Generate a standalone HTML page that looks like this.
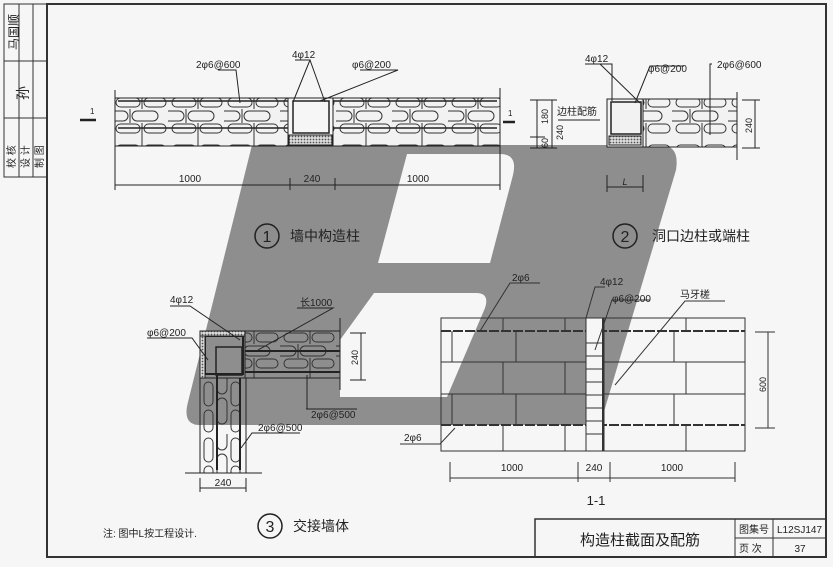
<!DOCTYPE html>
<html><head><meta charset="utf-8"><style>
html,body{margin:0;padding:0;background:#f6f6f6;}
svg{display:block}
text{font-family:"Liberation Sans","Noto Sans CJK SC",sans-serif;fill:#222}
</style></head><body>
<svg width="833" height="567" viewBox="0 0 833 567" xmlns="http://www.w3.org/2000/svg">
<defs>
<pattern id="blk" x="0" y="0" width="56" height="47" patternUnits="userSpaceOnUse">
<rect x="4" y="4" width="24" height="9" rx="4.5" fill="none" stroke="#333" stroke-width="1"/>
<rect x="32" y="4" width="22" height="9" rx="4.5" fill="none" stroke="#333" stroke-width="1"/>
<rect x="-10" y="17" width="26" height="10" rx="5" fill="none" stroke="#333" stroke-width="1"/>
<rect x="20" y="17" width="26" height="10" rx="5" fill="none" stroke="#333" stroke-width="1"/>
<rect x="4" y="30" width="24" height="9" rx="4.5" fill="none" stroke="#333" stroke-width="1"/>
<rect x="32" y="30" width="22" height="9" rx="4.5" fill="none" stroke="#333" stroke-width="1"/>
<line x1="30" y1="0" x2="30" y2="15" stroke="#333"/>
<line x1="18" y1="15" x2="18" y2="29" stroke="#333"/>
<line x1="30" y1="29" x2="30" y2="47" stroke="#333"/>
</pattern>
<pattern id="blkv" x="200" y="378" width="46" height="56" patternUnits="userSpaceOnUse">
<rect x="4" y="4" width="9" height="24" rx="4.5" fill="none" stroke="#333"/>
<rect x="4" y="32" width="9" height="22" rx="4.5" fill="none" stroke="#333"/>
<rect x="17" y="-10" width="10" height="26" rx="5" fill="none" stroke="#333"/>
<rect x="17" y="20" width="10" height="26" rx="5" fill="none" stroke="#333"/>
<rect x="31" y="4" width="9" height="24" rx="4.5" fill="none" stroke="#333"/>
<rect x="31" y="32" width="9" height="22" rx="4.5" fill="none" stroke="#333"/>
</pattern>
<pattern id="dots" width="3" height="3" patternUnits="userSpaceOnUse"><rect width="3" height="3" fill="#ddd"/><circle cx="1.5" cy="1.5" r="0.9" fill="#555"/></pattern>
</defs>

<!-- grey watermark -->
<path d="M252 145 L660 145 Q680 145 676 170 L600 425 L200 425 Q182 425 188 402 Z
M407 154 L500 154 Q518 154 513 175 L490 263 L378 263 Z
M374 293 L476 293 Q490 293 485 308 L447 397 L340 397 L340 340 Z" fill="#8e8e8e" fill-rule="evenodd"/>

<!-- frame -->
<g stroke="#333" fill="none">
<rect x="47" y="4" width="779" height="553" stroke-width="2"/>
<rect x="4" y="4" width="43" height="173" stroke-width="1"/>
<line x1="19" y1="4" x2="19" y2="177"/><line x1="33" y1="4" x2="33" y2="177"/>
<line x1="4" y1="61" x2="47" y2="61"/><line x1="4" y1="118" x2="47" y2="118"/>
<rect x="535" y="519" width="291" height="38" stroke-width="1.5"/>
<line x1="735" y1="519" x2="735" y2="557"/><line x1="773" y1="519" x2="773" y2="557"/>
<line x1="735" y1="538" x2="826" y2="538"/>
</g>
<g font-size="10">
<text transform="translate(15,168) rotate(-90)">校 核</text>
<text transform="translate(29,168) rotate(-90)">设 计</text>
<text transform="translate(43,168) rotate(-90)">制 图</text>
<text transform="translate(28,100) rotate(-90)" font-size="14" fill="#555">孙</text>
<text transform="translate(18,50) rotate(-90)" font-size="12" fill="#777">马国顺</text>
</g>
<text x="640" y="545" font-size="15" text-anchor="middle">构造柱截面及配筋</text>
<text x="739" y="533" font-size="10">图集号</text>
<text x="777" y="533" font-size="10">L12SJ147</text>
<text x="739" y="552" font-size="10">页  次</text>
<text x="800" y="552" font-size="10" text-anchor="middle">37</text>
<text x="103" y="537" font-size="10">注: 图中L按工程设计.</text>
<circle cx="270" cy="526" r="12" fill="none" stroke="#222" stroke-width="1.5"/>
<text x="270" y="532" font-size="16" text-anchor="middle">3</text>
<text x="293" y="531" font-size="14">交接墙体</text>

<!-- detail 1 -->
<rect x="115" y="98" width="385" height="48" fill="#f2f2f2"/>
<rect x="115" y="98" width="385" height="48" fill="url(#blk)"/>
<g stroke="#222" fill="none">
<line x1="115" y1="98" x2="500" y2="98"/><line x1="115" y1="146" x2="500" y2="146"/>
<line x1="115" y1="90" x2="115" y2="190"/><line x1="500" y1="88" x2="500" y2="190"/>
<line x1="118" y1="101" x2="497" y2="101" stroke-width="1.5"/>
<line x1="118" y1="128" x2="497" y2="128" stroke-width="1.5"/>
<rect x="288" y="98" width="45" height="48" fill="#f6f6f6"/>
<rect x="293" y="101" width="36" height="32" stroke-width="1.5"/>
<rect x="289" y="135" width="43" height="10" fill="url(#dots)"/>
<line x1="115" y1="185" x2="500" y2="185"/>
<line x1="290" y1="178" x2="290" y2="190"/><line x1="335" y1="178" x2="335" y2="190"/>
<polyline points="218,70 236,70 240,103"/><polyline points="295,60 310,60 293,102"/>
<polyline points="310,60 325,102"/><polyline points="360,70 398,70 320,101"/>
<line x1="80" y1="120" x2="96" y2="120" stroke-width="2.5"/><line x1="503" y1="122" x2="515" y2="122" stroke-width="2.5"/>
</g>
<g font-size="10">
<text x="196" y="68">2φ6@600</text><text x="292" y="58">4φ12</text><text x="352" y="68">φ6@200</text>
<text x="190" y="182" text-anchor="middle">1000</text><text x="312" y="182" text-anchor="middle">240</text><text x="418" y="182" text-anchor="middle">1000</text>
<text x="90" y="114" font-size="8">1</text><text x="508" y="116" font-size="8">1</text>
</g>
<circle cx="267" cy="236" r="12" fill="none" stroke="#222" stroke-width="1.5"/>
<text x="267" y="242" font-size="16" text-anchor="middle">1</text>
<text x="290" y="241" font-size="14">墙中构造柱</text>

<!-- detail 2 -->
<rect x="607" y="99" width="130" height="48" fill="#f2f2f2"/>
<rect x="643" y="99" width="94" height="48" fill="url(#blk)"/>
<g stroke="#222" fill="none">
<rect x="607" y="99" width="36" height="48"/>
<rect x="611" y="102" width="30" height="32" stroke-width="1.5"/>
<rect x="609" y="136" width="32" height="9" fill="url(#dots)"/>
<line x1="643" y1="99" x2="737" y2="99"/><line x1="643" y1="147" x2="737" y2="147"/>
<line x1="737" y1="92" x2="737" y2="160"/>
<line x1="537" y1="100" x2="537" y2="148"/><line x1="552" y1="100" x2="552" y2="148"/>
<line x1="530" y1="100" x2="557" y2="100"/><line x1="530" y1="137" x2="545" y2="137"/><line x1="530" y1="148" x2="557" y2="148"/>
<line x1="755" y1="100" x2="755" y2="148"/><line x1="742" y1="100" x2="760" y2="100"/><line x1="742" y1="148" x2="760" y2="148"/>
<line x1="607" y1="187" x2="643" y2="187"/><line x1="607" y1="175" x2="607" y2="192"/><line x1="643" y1="175" x2="643" y2="192"/>
<polyline points="585,64 612,64 612,101"/><polyline points="600,64 640,103"/>
<polyline points="684,66 650,66 635,103"/><polyline points="712,64 710,64 710,135"/>
<line x1="558" y1="120" x2="600" y2="120"/>
</g>
<g font-size="10">
<text x="585" y="62">4φ12</text><text x="648" y="72">φ6@200</text><text x="717" y="68">2φ6@600</text>
<text x="557" y="115">边柱配筋</text>
<text transform="translate(548,124) rotate(-90)" font-size="9">180</text>
<text transform="translate(548,148) rotate(-90)" font-size="9">60</text>
<text transform="translate(563,140) rotate(-90)" font-size="9">240</text>
<text transform="translate(752,133) rotate(-90)" font-size="9">240</text>
<text x="625" y="185" font-size="9" text-anchor="middle" font-style="italic">L</text>
</g>
<circle cx="625" cy="236" r="12" fill="none" stroke="#222" stroke-width="1.5"/>
<text x="625" y="242" font-size="16" text-anchor="middle">2</text>
<text x="652" y="241" font-size="14">洞口边柱或端柱</text>

<!-- detail 3 -->
<rect x="200" y="331" width="140" height="47" fill="url(#blk)"/>
<rect x="200" y="378" width="46" height="95" fill="url(#blkv)"/>
<g stroke="#222" fill="none">
<rect x="200" y="331" width="45" height="47" fill="#8e8e8e"/>
<rect x="205" y="336" width="38" height="38" stroke-width="2"/>
<rect x="216" y="347" width="26" height="28" stroke-width="1.5"/>
<rect x="200" y="331" width="5" height="47" fill="url(#dots)"/>
<rect x="200" y="331" width="45" height="5" fill="url(#dots)"/>
<line x1="200" y1="331" x2="340" y2="331"/><line x1="245" y1="378" x2="340" y2="378"/>
<line x1="200" y1="331" x2="200" y2="473"/><line x1="246" y1="378" x2="246" y2="473"/>
<line x1="245" y1="351" x2="340" y2="351" stroke-width="2"/><line x1="245" y1="372" x2="340" y2="372" stroke-width="2"/>
<line x1="217" y1="375" x2="217" y2="470" stroke-width="2"/><line x1="240" y1="378" x2="240" y2="470" stroke-width="2"/>
<line x1="340" y1="318" x2="340" y2="390"/>
<line x1="361" y1="333" x2="361" y2="380"/><line x1="350" y1="333" x2="366" y2="333"/><line x1="350" y1="380" x2="366" y2="380"/>
<line x1="185" y1="473" x2="262" y2="473"/>
<line x1="200" y1="488" x2="246" y2="488"/><line x1="200" y1="478" x2="200" y2="492"/><line x1="246" y1="478" x2="246" y2="492"/>
<polyline points="170,306 190,306 240,340"/><polyline points="147,338 192,338 208,360"/>
<polyline points="297,308 333,308 258,350"/><polyline points="306,409 357,409 307,409 307,375"/>
<polyline points="300,433 252,433 241,448"/>
</g>
<g font-size="10">
<text x="170" y="303">4φ12</text><text x="147" y="336">φ6@200</text>
<text x="300" y="306">长1000</text><text x="311" y="418">2φ6@500</text>
<text x="258" y="431">2φ6@500</text>
<text x="223" y="486" text-anchor="middle">240</text>
<text transform="translate(358,365) rotate(-90)" font-size="9">240</text>
</g>

<!-- section 1-1 -->
<g stroke="#333" fill="none">
<rect x="441" y="318" width="304" height="133"/>
<line x1="441" y1="331" x2="745" y2="331" stroke-width="2" stroke-dasharray="10,2"/>
<line x1="441" y1="362" x2="745" y2="362"/><line x1="441" y1="394" x2="745" y2="394"/>
<line x1="441" y1="425" x2="745" y2="425" stroke-width="2" stroke-dasharray="10,2"/>
<line x1="503" y1="318" x2="503" y2="331"/><line x1="565" y1="318" x2="565" y2="331"/>
<line x1="452" y1="331" x2="452" y2="362"/><line x1="516" y1="331" x2="516" y2="362"/>
<line x1="503" y1="362" x2="503" y2="394"/><line x1="565" y1="362" x2="565" y2="394"/>
<line x1="452" y1="394" x2="452" y2="425"/><line x1="516" y1="394" x2="516" y2="425"/>
<line x1="503" y1="425" x2="503" y2="451"/><line x1="565" y1="425" x2="565" y2="451"/>
<line x1="686" y1="318" x2="686" y2="331"/><line x1="674" y1="331" x2="674" y2="362"/>
<line x1="686" y1="362" x2="686" y2="394"/><line x1="674" y1="394" x2="674" y2="425"/>
<line x1="686" y1="425" x2="686" y2="451"/>
<rect x="586" y="318" width="18" height="133" fill="#f6f6f6"/>
<line x1="603" y1="318" x2="603" y2="451" stroke-width="2"/>
<line x1="586" y1="343" x2="603" y2="343"/><line x1="586" y1="356" x2="603" y2="356"/><line x1="586" y1="369" x2="603" y2="369"/><line x1="586" y1="382" x2="603" y2="382"/><line x1="586" y1="395" x2="603" y2="395"/><line x1="586" y1="408" x2="603" y2="408"/><line x1="586" y1="421" x2="603" y2="421"/><line x1="586" y1="434" x2="603" y2="434"/>
<line x1="450" y1="478" x2="735" y2="478"/>
<line x1="450" y1="462" x2="450" y2="482"/><line x1="578" y1="462" x2="578" y2="482"/><line x1="610" y1="462" x2="610" y2="482"/><line x1="735" y1="462" x2="735" y2="482"/>
<line x1="768" y1="332" x2="768" y2="428"/><line x1="755" y1="332" x2="775" y2="332"/><line x1="755" y1="428" x2="775" y2="428"/>
<polyline points="540,283 510,283 480,331"/><polyline points="605,287 595,287 586,318"/>
<polyline points="650,300 612,300 595,350"/><polyline points="725,301 685,301 615,385"/>
<polyline points="400,444 440,444 455,428"/>
</g>
<g font-size="10">
<text x="512" y="281">2φ6</text><text x="600" y="285">4φ12</text><text x="612" y="302">φ6@200</text><text x="680" y="298">马牙槎</text>
<text x="404" y="441">2φ6</text>
<text x="512" y="471" text-anchor="middle">1000</text><text x="594" y="471" text-anchor="middle">240</text><text x="672" y="471" text-anchor="middle">1000</text>
<text transform="translate(766,392) rotate(-90)" font-size="9">600</text>
<text x="596" y="505" font-size="13" text-anchor="middle">1-1</text>
</g>
</svg>
</body></html>
